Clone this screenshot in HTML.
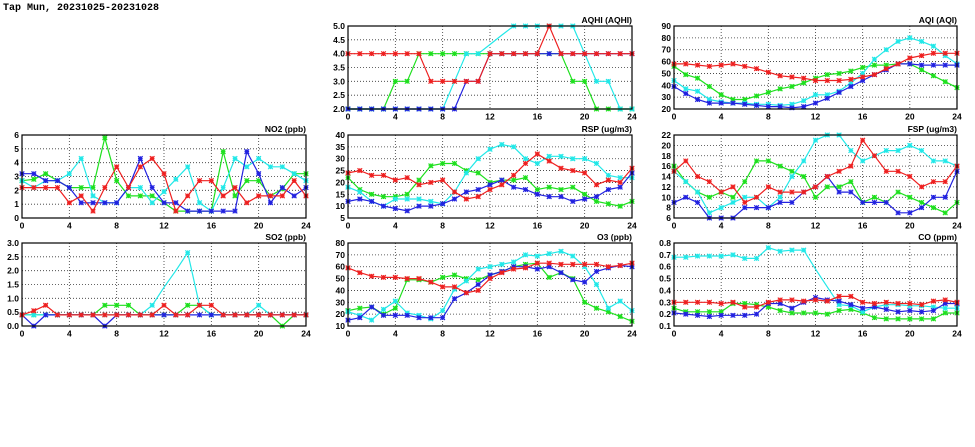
<!DOCTYPE html>
<html><head><meta charset="utf-8"><style>
html,body{margin:0;padding:0;background:#fff;width:975px;height:447px;overflow:hidden}
svg text{font-family:"Liberation Sans",sans-serif;font-weight:bold}
</style></head><body>
<svg id="c" width="975" height="447">
<text x="3" y="10" style="font-family:'Liberation Mono',monospace;font-size:10px;font-weight:bold">Tap Mun, 20231025-20231028</text>
</svg>
<script>
const hours=[0,1,2,3,4,5,6,7,8,9,10,11,12,13,14,15,16,17,18,19,20,21,22,23,24];
const xTicks=[0,4,8,12,16,20,24];
const seriesColors=["#1ee01e","#22e8e8","#2222e0","#ee2020"];
const no2Green=[2.7,2.8,3.2,2.7,2.2,2.2,2.2,5.8,2.7,1.6,1.6,1.6,1.1,0.5,0.5,0.5,0.5,4.8,1.6,2.7,2.7,1.6,2.1,3.2,3.2];
const no2Cyan=[2.7,2.2,2.7,2.7,3.2,4.3,1.6,1.1,1.1,2.2,2.2,1.1,1.9,2.8,3.7,1.1,0.5,2.2,4.3,3.7,4.3,3.7,3.7,3.2,2.7];
const no2Blue=[3.2,3.2,2.7,2.7,2.2,1.1,1.1,1.1,1.1,2.2,4.3,2.2,1.1,1.1,0.5,0.5,0.5,0.5,0.5,4.8,3.2,1.1,2.2,1.6,2.2];
const no2Red=[2.2,2.2,2.2,2.2,1.1,1.6,0.5,2.2,3.7,2.2,3.7,4.3,3.2,0.5,1.6,2.7,2.7,1.6,2.2,1.1,1.6,1.6,1.6,2.7,1.6];
const aqhiGreen=[2,2,2,2,3,3,4,4,4,4,4,4,4,4,4,4,4,4,4,3,3,2,2,2,2];
const aqhiCyan=[2,2,2,2,2,2,2,2,2,3,4,4,4.33,4.67,5,5,5,5,5,5,4,3,3,2,2];
const aqhiBlue=[2,2,2,2,2,2,2,2,2,2,3,3,4,4,4,4,4,4,4,4,4,4,4,4,4];
const aqhiRed=[4,4,4,4,4,4,4,3,3,3,3,3,4,4,4,4,4,5,4,4,4,4,4,4,4];
const aqiGreen=[56,49,46,39,32,28,28,31,34,37,39,42,46,49,50,52,55,57,57,58,58,53,48,43,38];
const aqiCyan=[44,37,35,28,26,25,25,24,24,23,24,27,32,32,35,42,50,62,70,77,80,77,73,65,58];
const aqiBlue=[39,33,28,25,25,25,24,23,22,22,21,22,25,29,34,39,44,49,53,58,58,57,57,57,57];
const aqiRed=[58,58,57,56,57,58,56,54,51,48,47,46,44,44,44,45,47,49,54,58,63,65,67,67,67];
const rspGreen=[22,17,15,14,14,15,21,27,28,28,25,24,20,21,21,22,17,18,17,18,15,12,11,10,12];
const rspCyan=[18,16,12,10,13,13,13,12,11,16,24,30,34,36,35,30,28,31,31,30,30,28,23,22,22];
const rspBlue=[12,13,12,10,9,8,10,10,11,13,16,17,19,21,18,17,15,14,14,12,13,14,17,18,24];
const rspRed=[24,25,23,23,21,22,19,20,21,16,13,14,17,19,23,28,32,29,26,25,24,19,21,20,26];
const fspGreen=[16,13,11,10,11,10,13,17,17,16,15,14,10,12,12,13,9,10,9,11,10,9,8,7,9];
const fspCyan=[15,13,11,7,8,9,10,10,8,10,14,17,21,22,22,19,17,18,19,19,20,19,17,17,16];
const fspBlue=[9,10,9,6,6,6,8,8,8,9,9,11,12,14,11,11,9,9,9,7,7,8,10,10,15];
const fspRed=[15,17,14,13,11,12,9,10,12,11,11,11,12,14,15,16,21,18,15,15,14,12,13,13,16];
const so2Green=[.4,.4,.4,.4,.4,.4,.4,.75,.75,.75,.4,.4,.4,.4,.75,.75,.4,.4,.4,.4,.4,.4,0,.4,.4];
const so2Cyan=[.4,.4,.4,.4,.4,.4,.4,.4,.4,.4,.4,.75,1.4,2.0,2.65,.75,.4,.4,.4,.4,.75,.4,.4,.4,.4];
const so2Blue=[.4,0,.4,.4,.4,.4,.4,0,.4,.4,.4,.4,.4,.4,.4,.4,.4,.4,.4,.4,.4,.4,.4,.4,.4];
const so2Red=[.4,.55,.75,.4,.4,.4,.4,.4,.4,.4,.4,.4,.75,.4,.4,.75,.75,.4,.4,.4,.4,.4,.4,.4,.4];
const o3Green=[23,25,26,20,25,49,49,47,51,53,50,49,53,56,60,62,63,51,55,50,30,25,22,18,14];
const o3Cyan=[22,19,15,24,31,21,19,16,23,41,48,58,60,62,64,70,69,71,73,69,60,45,25,31,23];
const o3Blue=[15,17,26,19,19,19,17,17,17,33,38,45,53,56,60,60,58,60,55,49,47,56,59,61,60];
const o3Red=[59,55,52,51,51,50,50,47,43,43,38,40,50,55,58,59,63,63,62,62,62,62,60,61,63];
const coGreen=[.25,.22,.22,.22,.22,.29,.29,.28,.26,.23,.21,.21,.21,.20,.23,.24,.21,.17,.16,.16,.16,.16,.16,.21,.21];
const coCyan=[.68,.68,.69,.69,.69,.70,.67,.67,.76,.73,.74,.74,.58,.43,.28,.27,.22,.26,.28,.28,.27,.27,.26,.25,.25];
const coBlue=[.21,.20,.19,.18,.19,.19,.19,.20,.29,.29,.25,.30,.34,.32,.31,.28,.25,.26,.24,.22,.23,.22,.23,.29,.29];
const coRed=[.30,.30,.30,.30,.29,.30,.26,.26,.30,.32,.32,.31,.32,.31,.35,.35,.30,.29,.30,.29,.29,.28,.31,.32,.30];
const noMarker=["aqhi-1-12","aqhi-1-13","so2-1-12","so2-1-13","co-1-12","co-1-13"];
const aqhiTicks=["2.0","2.5","3.0","3.5","4.0","4.5","5.0"];
const aqiTicks=["20","30","40","50","60","70","80","90"];
const no2Ticks=["0","1","2","3","4","5","6"];
const rspTicks=["5","10","15","20","25","30","35","40"];
const fspTicks=["6","8","10","12","14","16","18","20","22"];
const so2Ticks=["0.0","0.5","1.0","1.5","2.0","2.5","3.0"];
const o3Ticks=["10","20","30","40","50","60","70","80"];
const coTicks=["0.1","0.2","0.3","0.4","0.5","0.6","0.7","0.8"];

const NS="http://www.w3.org/2000/svg";
const svg=document.getElementById('c');
function mk(t,a,p){const e=document.createElementNS(NS,t);for(const k in a)e.setAttribute(k,a[k]);(p||svg).appendChild(e);return e;}
const C1=[348,632],C2=[674,957],C0=[22,306];
const R1=[26,109],R2=[135,218],R3=[243,326];
const panels=[
 {name:"aqhi",title:"AQHI (AQHI)",xr:C1,yr:R1,ticks:aqhiTicks,s:[aqhiGreen,aqhiCyan,aqhiBlue,aqhiRed]},
 {name:"aqi",title:"AQI (AQI)",xr:C2,yr:R1,ticks:aqiTicks,s:[aqiGreen,aqiCyan,aqiBlue,aqiRed]},
 {name:"no2",title:"NO2 (ppb)",xr:C0,yr:R2,ticks:no2Ticks,s:[no2Green,no2Cyan,no2Blue,no2Red]},
 {name:"rsp",title:"RSP (ug/m3)",xr:C1,yr:R2,ticks:rspTicks,s:[rspGreen,rspCyan,rspBlue,rspRed]},
 {name:"fsp",title:"FSP (ug/m3)",xr:C2,yr:R2,ticks:fspTicks,s:[fspGreen,fspCyan,fspBlue,fspRed]},
 {name:"so2",title:"SO2 (ppb)",xr:C0,yr:R3,ticks:so2Ticks,s:[so2Green,so2Cyan,so2Blue,so2Red]},
 {name:"o3",title:"O3 (ppb)",xr:C1,yr:R3,ticks:o3Ticks,s:[o3Green,o3Cyan,o3Blue,o3Red]},
 {name:"co",title:"CO (ppm)",xr:C2,yr:R3,ticks:coTicks,s:[coGreen,coCyan,coBlue,coRed]}
];
const sNames=["green","cyan","blue","red"];
panels.forEach(p=>{
 const g=mk('g',{});
 
 
 const [x0,x1]=p.xr,[yt,yb]=p.yr;
 const ymin=parseFloat(p.ticks[0]),ymax=parseFloat(p.ticks[p.ticks.length-1]);
 const X=h=>x0+(h-0)/(24-0)*(x1-x0);
 const Y=v=>yb-(v-ymin)/(ymax-ymin)*(yb-yt);
 p.ticks.forEach((t,i)=>{
  const y=Y(parseFloat(t));
  if(i>0&&i<p.ticks.length-1){const l=mk('line',{x1:x0,x2:x1,y1:y,y2:y,stroke:'#333','stroke-width':0.8,'stroke-dasharray':'1,2'},g);}
  const tx=mk('text',{x:x0-3,y:y+3,'font-size':'8.5','text-anchor':'end'},g);tx.textContent=t;
  
 });
 xTicks.forEach((t,i)=>{
  const x=X(t);
  if(i>0&&i<xTicks.length-1){const l=mk('line',{x1:x,x2:x,y1:yt,y2:yb,stroke:'#333','stroke-width':0.8,'stroke-dasharray':'1,2'},g);}
  const tx=mk('text',{x:x,y:yb+10.5,'font-size':'8.5','text-anchor':'middle'},g);tx.textContent=t;
  
 });
 const ti=mk('text',{x:x1,y:yt-3,'font-size':'8.5','text-anchor':'end'},g);ti.textContent=p.title;
 
 const cp='cp-'+p.name;
 const defs=mk('clipPath',{id:cp},g);mk('rect',{x:x0-4,y:yt-4,width:x1-x0+8,height:yb-yt+8},defs);
 p.s.forEach((arr,si)=>{
  const col=seriesColors[si];
  const sg=mk('g',{'clip-path':'url(#'+cp+')'},g);
  
  
  const pts=arr.map((v,i)=>X(hours[i]).toFixed(1)+','+Y(v).toFixed(1)).join(' ');
  mk('polyline',{points:pts,fill:'none',stroke:col,'stroke-width':1.2},sg);
  arr.forEach((v,i)=>{
   if(noMarker.indexOf(p.name+'-'+si+'-'+i)>=0)return;
   const cx=X(hours[i]),cy=Y(v),r=2.3;
   const m=mk('path',{d:`M${cx-r},${cy-r}L${cx+r},${cy+r}M${cx-r},${cy+r}L${cx+r},${cy-r}M${cx-r},${cy}L${cx+r},${cy}M${cx},${cy-r}L${cx},${cy+r}`,stroke:col,'stroke-width':1.2},sg);
   
   
  });
 });
 const fr=mk('rect',{x:x0,y:yt,width:x1-x0,height:yb-yt,fill:'none',stroke:'#000','stroke-width':1.2},g);
 
});
</script>
</body></html>
